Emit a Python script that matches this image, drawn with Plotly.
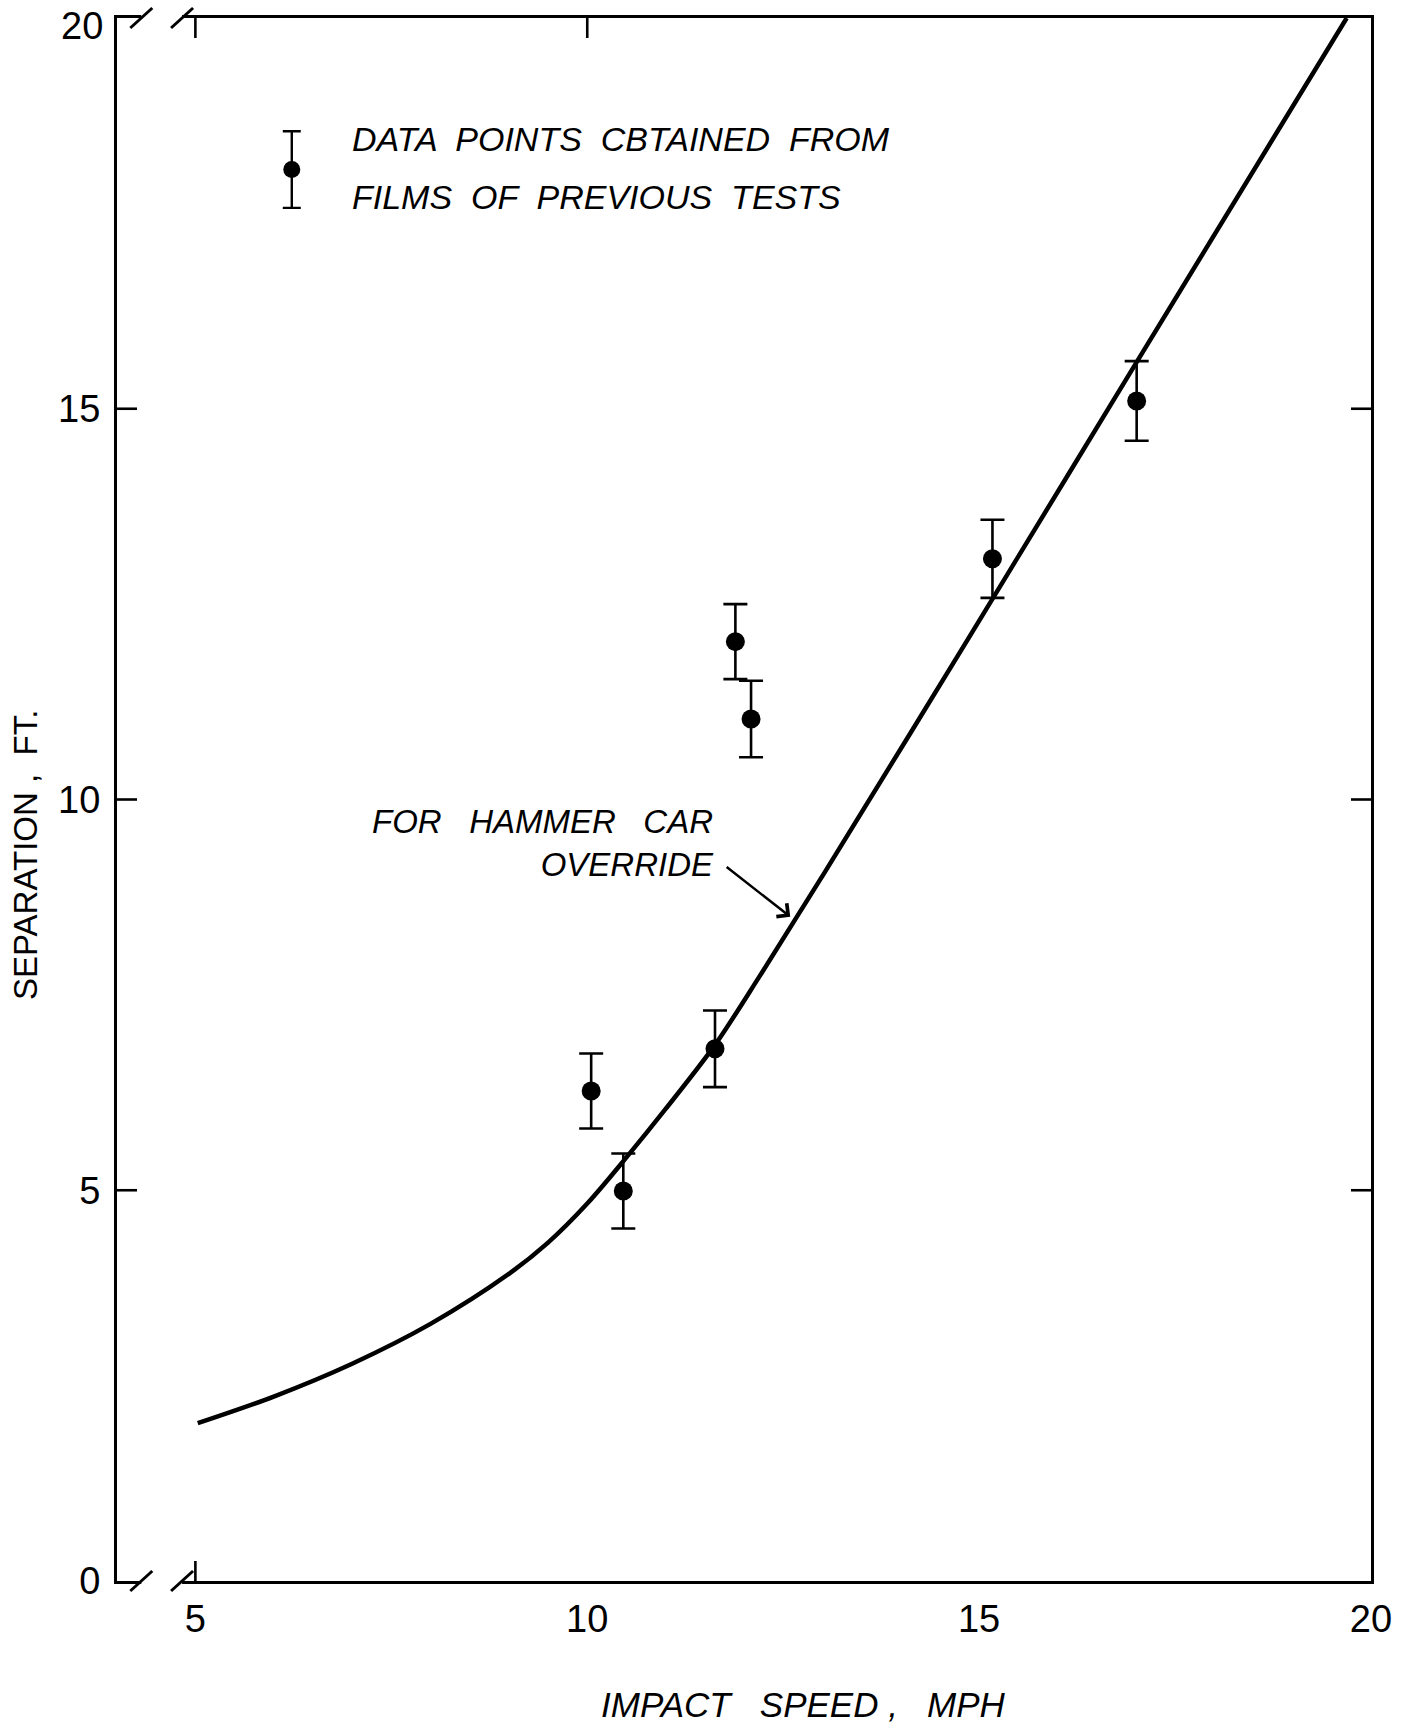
import plotly.graph_objects as go

# ---------------- data ----------------
speed = [10.05, 10.46, 11.63, 11.89, 12.09, 15.17, 17.01]
separation = [6.27, 4.99, 6.81, 12.02, 11.03, 13.08, 15.10]
error = [0.48, 0.48, 0.49, 0.48, 0.49, 0.50, 0.51]

curve_speed = [5.03, 6.0, 7.0, 8.0, 9.0, 9.5, 10.0, 10.5, 11.0, 11.63, 12.2, 13.0, 14.85, 17.0, 19.69]
curve_sep = [2.02, 2.36, 2.78, 3.29, 3.93, 4.33, 4.83, 5.42, 6.04, 6.86, 7.74, 9.02, 12.04, 15.58, 20.0]

legend_speed = [6.23]
legend_sep = [18.06]
legend_err = [0.49]

x_ticks = [5, 10, 15, 20]
y_ticks = [0, 5, 10, 15]
y_top_label = 20
top_marks = [5, 10]
bottom_marks = [5]
left_marks = [5, 10, 15]
right_marks = [5, 10, 15]
X_RANGE = [4, 20]
Y_RANGE = [0, 20]
break_centers = [4.31, 4.83]

# ---------------- layout geometry ----------------
W, H = 1414, 1724
ML, MR, MT, MB = 117, 43, 18, 143
PW = W - ML - MR
PH = H - MT - MB
TICK = 20


def fx(v):
    return (v - X_RANGE[0]) / (X_RANGE[1] - X_RANGE[0])


def fy(v):
    return (v - Y_RANGE[0]) / (Y_RANGE[1] - Y_RANGE[0])


fig = go.Figure()

fig.add_trace(go.Scatter(
    x=curve_speed, y=curve_sep, mode="lines",
    line=dict(color="black", width=4.5, shape="spline", smoothing=0.9),
    hoverinfo="skip", showlegend=False, cliponaxis=True,
))

fig.add_trace(go.Scatter(
    x=speed, y=separation, mode="markers",
    marker=dict(color="black", size=19),
    error_y=dict(type="data", array=error, color="black", thickness=2.6, width=12),
    showlegend=False,
))

fig.add_trace(go.Scatter(
    x=legend_speed, y=legend_sep, mode="markers",
    marker=dict(color="black", size=17),
    error_y=dict(type="data", array=legend_err, color="black", thickness=2.4, width=9),
    showlegend=False, hoverinfo="skip",
))

FONT = "Liberation Sans"
TICKFONT = dict(family=FONT, size=38, color="black")

axis_common = dict(
    showline=True, linecolor="black", linewidth=3, mirror=True,
    ticks="", showgrid=False, zeroline=False, automargin=False,
    tickfont=TICKFONT,
)

fig.update_xaxes(range=X_RANGE, tickmode="array", tickvals=x_ticks,
                 ticklabelstandoff=2, **axis_common)
fig.update_yaxes(range=Y_RANGE, tickmode="array", tickvals=y_ticks,
                 ticklabelstandoff=6, **axis_common)

shapes = []
dx = 11 / PW
dy = 10 / PH
tx = TICK / PW
ty = TICK / PH
for yb in (0, 1):
    # white mask for the axis break gap
    shapes.append(dict(type="line", xref="paper", yref="paper",
                       x0=fx(break_centers[0]), x1=fx(break_centers[1]),
                       y0=yb, y1=yb, line=dict(color="white", width=7), layer="above"))
    for c in break_centers:
        shapes.append(dict(type="line", xref="paper", yref="paper",
                           x0=fx(c) - dx, y0=yb - dy, x1=fx(c) + dx, y1=yb + dy,
                           line=dict(color="black", width=3), layer="above"))

tick_line = dict(color="black", width=2.6)
for v in top_marks:
    shapes.append(dict(type="line", xref="paper", yref="paper",
                       x0=fx(v), x1=fx(v), y0=1, y1=1 - ty, line=tick_line))
for v in bottom_marks:
    shapes.append(dict(type="line", xref="paper", yref="paper",
                       x0=fx(v), x1=fx(v), y0=0, y1=ty, line=tick_line))
for v in left_marks:
    shapes.append(dict(type="line", xref="paper", yref="paper",
                       x0=0, x1=tx, y0=fy(v), y1=fy(v), line=tick_line))
for v in right_marks:
    shapes.append(dict(type="line", xref="paper", yref="paper",
                       x0=1 - tx, x1=1, y0=fy(v), y1=fy(v), line=tick_line))

annotations = [
    dict(x=0, y=y_top_label, xref="paper", yref="y", xanchor="right", yanchor="middle",
         xshift=-12, yshift=-8, text=str(y_top_label), showarrow=False, font=TICKFONT),
    dict(x=6.97, y=18.45, xref="x", yref="y", xanchor="left", yanchor="middle",
         text="<i>DATA  POINTS  CBTAINED  FROM</i>", showarrow=False,
         font=dict(family=FONT, size=34, color="black")),
    dict(x=6.97, y=17.71, xref="x", yref="y", xanchor="left", yanchor="middle",
         text="<i>FILMS  OF  PREVIOUS  TESTS</i>", showarrow=False,
         font=dict(family=FONT, size=34, color="black")),
    dict(x=11.64, y=9.44, xref="x", yref="y", xanchor="right", yanchor="middle",
         align="right",
         text="<i>FOR   HAMMER   CAR</i><br><i>OVERRIDE</i>", showarrow=False,
         font=dict(family=FONT, size=33, color="black")),
    dict(x=12.59, y=8.5, xref="x", yref="y", ax=11.76, ay=9.15,
         axref="x", ayref="y", text="", showarrow=True,
         arrowhead=4, arrowsize=1.3, arrowwidth=2.5, arrowcolor="black"),
    dict(x=(25 - ML) / PW, y=(H - MB - 855) / PH, xref="paper", yref="paper",
         text="SEPARATION ,  FT.", textangle=-90, showarrow=False,
         xanchor="center", yanchor="middle",
         font=dict(family=FONT, size=33, color="black")),
    dict(x=(803 - ML) / PW, y=(H - MB - 1704) / PH, xref="paper", yref="paper",
         text="<i>IMPACT   SPEED ,   MPH</i>", showarrow=False,
         xanchor="center", yanchor="middle",
         font=dict(family=FONT, size=35, color="black")),
]

fig.update_layout(
    width=W, height=H, autosize=False,
    margin=dict(l=ML, r=MR, t=MT, b=MB, pad=0, autoexpand=False),
    paper_bgcolor="white", plot_bgcolor="white",
    shapes=shapes, annotations=annotations,
    showlegend=False,
)

fig.write_html("out.html")
